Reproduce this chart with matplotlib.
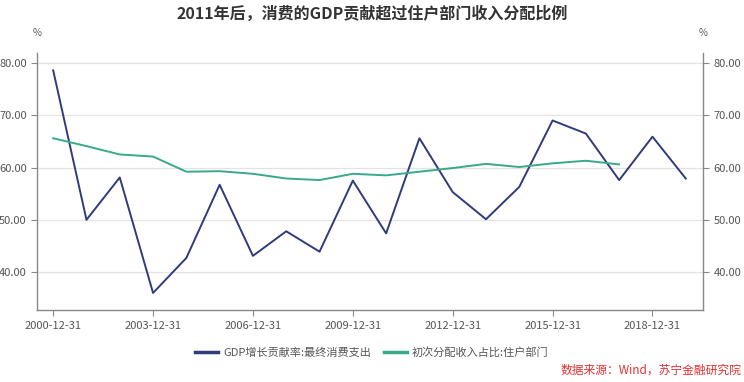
import matplotlib
matplotlib.use("Agg")
import matplotlib.pyplot as plt

plt.rcParams["font.family"] = ["Noto Sans CJK SC", "DejaVu Sans"]

years = list(range(2000, 2020))
gdp_contrib = [78.6, 50.0, 58.1, 36.0, 42.7, 56.7, 43.1, 47.8, 43.9, 57.5,
               47.4, 65.6, 55.3, 50.1, 56.3, 69.0, 66.5, 57.6, 65.9, 57.9]
income_years = list(range(2000, 2018))
income_share = [65.6, 64.1, 62.5, 62.1, 59.2, 59.3, 58.8, 57.9, 57.6, 58.8,
                58.5, 59.2, 59.9, 60.7, 60.1, 60.8, 61.3, 60.6]
tick_years = [2000, 2003, 2006, 2009, 2012, 2015, 2018]
yticks = [40, 50, 60, 70, 80]

title = "2011年后，消费的GDP贡献超过住户部门收入分配比例"
label_gdp = "GDP增长贡献率:最终消费支出"
label_inc = "初次分配收入占比:住户部门"
source = "数据来源：Wind，苏宁金融研究院"

c_blue = "#2f3b7a"
c_green = "#3aa88a"
c_axis = "#888888"
c_text = "#555555"

fig = plt.figure(figsize=(7.44, 3.82), dpi=100)
ax = fig.add_axes([0.05, 0.188, 0.895, 0.673])

ax.plot(years, gdp_contrib, color=c_blue, lw=1.4, label=label_gdp)
ax.plot(income_years, income_share, color=c_green, lw=1.4, label=label_inc)

ax.set_xlim(1999.52, 2019.52)
ax.set_ylim(32.7, 81.9)
ax.set_xticks(tick_years)
ax.set_xticklabels([f"{y}-12-31" for y in tick_years])
ax.set_yticks(yticks)
ax.set_yticklabels([f"{v:.2f}" for v in yticks])
ax.grid(axis="y", color="#e3e3e3", lw=0.9)
ax.set_axisbelow(True)

ax.spines["top"].set_visible(False)
for s in ["left", "right", "bottom"]:
    ax.spines[s].set_color(c_axis)
    ax.spines[s].set_linewidth(1.0)
ax.tick_params(axis="both", colors=c_axis, labelcolor=c_text, labelsize=8, length=4)
ax.tick_params(axis="y", right=True, labelright=True)

ax.text(0.0, 1.06, "%", transform=ax.transAxes, ha="center", va="bottom", fontsize=7, color=c_text)
ax.text(1.0, 1.06, "%", transform=ax.transAxes, ha="center", va="bottom", fontsize=7, color=c_text)

fig.suptitle(title, x=0.5, y=0.985, fontsize=11.5, fontweight="bold", color="#333333")

leg = fig.legend(loc="center", bbox_to_anchor=(0.5, 0.078), ncol=2, frameon=False,
                 fontsize=8, handlelength=2.0, columnspacing=1.2, handletextpad=0.5,
                 labelcolor=c_text)
for h in leg.legend_handles:
    h.set_linewidth(2.5)

fig.text(0.996, 0.015, source, ha="right", va="bottom", fontsize=8.5,
         color="#e03030", style="italic")

fig.savefig("out.png", dpi=100)
